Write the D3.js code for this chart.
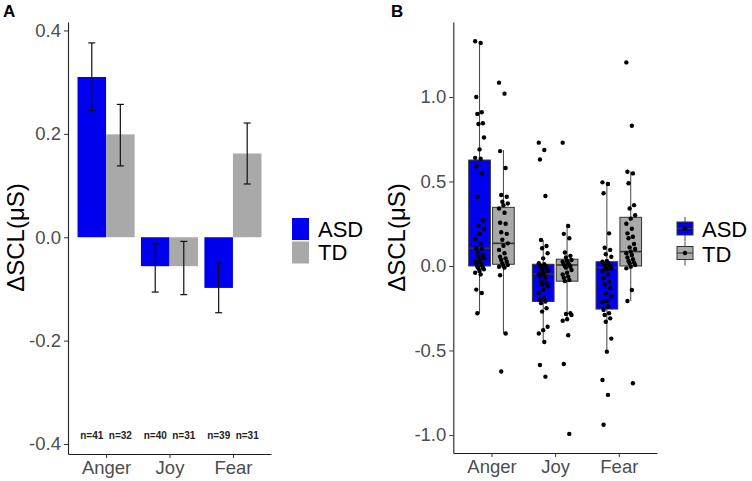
<!DOCTYPE html>
<html>
<head>
<meta charset="utf-8">
<script src="https://cdn.jsdelivr.net/npm/d3@7"></script>
<style>
  body { margin: 0; background: #fff; }
  svg { font-family: "Liberation Sans", Arial, sans-serif; }
</style>
</head>
<body>
<script>
// categories + groups
const emotions = ['Anger', 'Joy', 'Fear']
const groups = ['ASD', 'TD']

// panel A: means and error bar ends, per emotion (Anger, Joy, Fear)
const asdMean = [0.31, -0.056, -0.098]
const tdMean = [0.199, -0.056, 0.162]
const asdErrHi = [0.376, -0.013, -0.05]
const asdErrLo = [0.245, -0.106, -0.146]
const tdErrHi = [0.257, -0.008, 0.221]
const tdErrLo = [0.138, -0.111, 0.103]
const asdN = [41, 40, 39]
const tdN = [32, 31, 31]
const ticksA = [-0.4, -0.2, 0.0, 0.2, 0.4]

// panel B: box stats [lower whisker, q1, median, q3, upper whisker]
const asdBox = [
    [-0.28, 0.0, 0.105, 0.627, 1.33],
    [-0.45, -0.21, -0.047, 0.01, 0.154],
    [-0.51, -0.255, -0.01, 0.025, 0.498]
]
const tdBox = [
    [-0.40, 0.01, 0.134, 0.347, 0.686],
    [-0.32, -0.09, 0.006, 0.04, 0.25],
    [-0.207, 0.0, 0.085, 0.288, 0.558]
]
const ticksB = [-1.0, -0.5, 0.0, 0.5, 1.0]

// individual subjects
const angerASD = [1.33, 1.32, 1.00, 0.91, 0.90, 0.845, 0.84, 0.76, 0.69, 0.64, 0.635,
    0.59, 0.55, 0.41, 0.27, 0.24, 0.22, 0.19, 0.16, 0.13, 0.105,
    0.10, 0.08, 0.065, 0.055, 0.045, 0.035, 0.025, 0.02, 0.015, 0.005,
    -0.005, -0.01, -0.015, -0.02, -0.03, -0.04, -0.05, -0.14, -0.16, -0.28]
const angerTD = [1.085, 1.02, 0.68, 0.58, 0.42, 0.41, 0.38, 0.37, 0.36, 0.34, 0.315,
    0.256, 0.25, 0.2, 0.19, 0.155, 0.134, 0.12, 0.095, 0.075, 0.055, 0.045, 0.035,
    0.025, 0.015, 0.005, 0.0, -0.005, -0.01, -0.055, -0.40, -0.625]
const joyASD = [0.73, 0.686, 0.63, 0.414, 0.154, 0.118, 0.105, 0.075, 0.045,
    0.016, 0.01, 0.005, 0.0, -0.01, -0.014, -0.02, -0.03, -0.04, -0.047, -0.053,
    -0.06, -0.073, -0.09, -0.10, -0.11, -0.12, -0.14, -0.16, -0.19, -0.2, -0.21,
    -0.22, -0.25, -0.27, -0.36, -0.38, -0.40, -0.45, -0.586, -0.655]
const joyTD = [0.73, 0.237, 0.19, 0.164, 0.08, 0.06, 0.05, 0.035, 0.03, 0.025, 0.016,
    0.01, 0.006, 0.0, -0.005, -0.01, -0.024, -0.04, -0.05, -0.063, -0.07, -0.083,
    -0.09, -0.28, -0.284, -0.29, -0.315, -0.324, -0.41, -0.58, -0.994]
const fearASD = [0.495, 0.485, 0.43, 0.193, 0.108, 0.095, 0.069, 0.055, 0.03, 0.025,
    0.02, 0.015, 0.01, 0.005, 0.0, -0.01, -0.014, -0.02, -0.03, -0.05, -0.073, -0.093,
    -0.11, -0.13, -0.16, -0.18, -0.207, -0.215, -0.24, -0.26, -0.28, -0.29, -0.31,
    -0.33, -0.43, -0.507, -0.675, -0.763, -0.94]
const fearTD = [1.205, 0.83, 0.558, 0.548, 0.49, 0.36, 0.34, 0.3, 0.28, 0.25, 0.22,
    0.193, 0.173, 0.164, 0.13, 0.11, 0.1, 0.085, 0.075, 0.065, 0.05, 0.04, 0.03, 0.02,
    0.016, 0.006, -0.004, -0.014, -0.142, -0.207, -0.694]
const asdPoints = [angerASD, joyASD, fearASD]
const tdPoints = [angerTD, joyTD, fearTD]

const colors = {ASD: '#0000ee', TD: '#a9a9a9'}
const tickGrey = '#4d4d4d'

const svg = d3.select('body').append('svg')
    .attr('width', 752)
    .attr('height', 481)

// little helper to style an axis the ggplot classic way
const styleAxis = (g) => {
    g.select('.domain').attr('stroke', '#222').attr('stroke-width', 1.1)
    g.selectAll('.tick line').attr('stroke', '#333').attr('stroke-width', 1)
    g.selectAll('.tick text').attr('fill', tickGrey).style('font-size', '18.5px')
}

const yTitle = (x) => {
    svg.append('text')
        .attr('transform', `translate(${x},237.5) rotate(-90)`)
        .attr('text-anchor', 'middle')
        .attr('dominant-baseline', 'central')
        .style('font-size', '24px')
        .text('ΔSCL(μS)')
}

// ---------- panel A ----------
const xA = d3.scalePoint().domain(emotions).range([68, 271]).padding(0.6)
const yA = d3.scaleLinear().domain([-0.4193, 0.4164]).range([454, 22])
const stepA = xA.step()
const barW = stepA * 0.45

const barsA = []
emotions.forEach((e, i) => {
    barsA.push({e, g: 'ASD', v: asdMean[i], hi: asdErrHi[i], lo: asdErrLo[i], n: asdN[i], off: -barW / 2})
    barsA.push({e, g: 'TD', v: tdMean[i], hi: tdErrHi[i], lo: tdErrLo[i], n: tdN[i], off: barW / 2})
})

const panelA = svg.append('g')

panelA.selectAll('.bar')
    .data(barsA)
    .join('rect')
    .attr('class', 'bar')
    .attr('x', d => xA(d.e) + d.off - barW / 2)
    .attr('width', barW)
    .attr('y', d => yA(Math.max(0, d.v)))
    .attr('height', d => Math.abs(yA(d.v) - yA(0)))
    .attr('fill', d => colors[d.g])

const err = panelA.selectAll('.err')
    .data(barsA)
    .join('g')
    .attr('class', 'err')
    .attr('stroke', '#111')
    .attr('stroke-width', 1.2)
err.append('line')
    .attr('x1', d => xA(d.e) + d.off).attr('x2', d => xA(d.e) + d.off)
    .attr('y1', d => yA(d.hi)).attr('y2', d => yA(d.lo))
err.append('line')
    .attr('x1', d => xA(d.e) + d.off - 3.5).attr('x2', d => xA(d.e) + d.off + 3.5)
    .attr('y1', d => yA(d.hi)).attr('y2', d => yA(d.hi))
err.append('line')
    .attr('x1', d => xA(d.e) + d.off - 3.5).attr('x2', d => xA(d.e) + d.off + 3.5)
    .attr('y1', d => yA(d.lo)).attr('y2', d => yA(d.lo))

panelA.selectAll('.nlab')
    .data(barsA)
    .join('text')
    .attr('class', 'nlab')
    .attr('x', d => xA(d.e) + d.off)
    .attr('y', yA(-0.384))
    .attr('text-anchor', 'middle')
    .attr('dominant-baseline', 'central')
    .style('font-size', '10px')
    .style('font-weight', 'bold')
    .attr('fill', '#222')
    .text(d => 'n=' + d.n)

panelA.append('g')
    .attr('transform', 'translate(68,0)')
    .call(d3.axisLeft(yA).tickValues(ticksA).tickFormat(d => d.toFixed(1)).tickSize(4).tickSizeOuter(0).tickPadding(3))
    .call(styleAxis)
panelA.append('g')
    .attr('transform', 'translate(0,454)')
    .call(d3.axisBottom(xA).tickSize(4).tickSizeOuter(0).tickPadding(3))
    .call(styleAxis)

yTitle(15)

svg.append('text').attr('x', 3).attr('y', 17)
    .style('font-size', '17px').style('font-weight', 'bold').text('A')

// legend A
const legA = svg.append('g').attr('transform', 'translate(292,218)')
groups.forEach((g, i) => {
    legA.append('rect').attr('x', 0).attr('y', i * 23.5).attr('width', 17).attr('height', 22)
        .attr('fill', colors[g])
    legA.append('text').attr('x', 26).attr('y', i * 23.5 + 11)
        .attr('dominant-baseline', 'central').style('font-size', '22px').text(g)
})

// ---------- panel B ----------
const xB = d3.scalePoint().domain(emotions).range([453.3, 657]).padding(0.6)
const yB = d3.scaleLinear().domain([-1.107, 1.444]).range([453, 22])
const stepB = xB.step()
const boxW = stepB * 0.34
const dodge = stepB * 0.1875

const boxes = []
emotions.forEach((e, i) => {
    boxes.push({e, g: 'ASD', s: asdBox[i], pts: asdPoints[i], cx: xB(e) - dodge})
    boxes.push({e, g: 'TD', s: tdBox[i], pts: tdPoints[i], cx: xB(e) + dodge})
})

const panelB = svg.append('g')
const bx = panelB.selectAll('.box')
    .data(boxes)
    .join('g')
    .attr('class', 'box')

bx.append('line')
    .attr('x1', d => d.cx).attr('x2', d => d.cx)
    .attr('y1', d => yB(d.s[4])).attr('y2', d => yB(d.s[0]))
    .attr('stroke', '#444').attr('stroke-width', 1)
bx.append('rect')
    .attr('x', d => d.cx - boxW / 2)
    .attr('width', boxW)
    .attr('y', d => yB(d.s[3]))
    .attr('height', d => yB(d.s[1]) - yB(d.s[3]))
    .attr('fill', d => colors[d.g])
    .attr('stroke', '#333').attr('stroke-width', 1)
bx.append('line')
    .attr('x1', d => d.cx - boxW / 2).attr('x2', d => d.cx + boxW / 2)
    .attr('y1', d => yB(d.s[2])).attr('y2', d => yB(d.s[2]))
    .attr('stroke', '#333').attr('stroke-width', 1.6)

// deterministic little horizontal spread for the dots
const jit = (i) => ((i * 5) % 9 - 4) * 1.1

bx.selectAll('circle')
    .data(d => d.pts.map((v, i) => ({v, x: d.cx + jit(i)})))
    .join('circle')
    .attr('cx', d => d.x)
    .attr('cy', d => yB(d.v))
    .attr('r', 2.2)
    .attr('fill', '#000')

panelB.append('g')
    .attr('transform', 'translate(453.3,0)')
    .call(d3.axisLeft(yB).tickValues(ticksB).tickFormat(d => d.toFixed(1)).tickSize(4).tickSizeOuter(0).tickPadding(3))
    .call(styleAxis)
panelB.append('g')
    .attr('transform', 'translate(0,453)')
    .call(d3.axisBottom(xB).tickSize(4).tickSizeOuter(0).tickPadding(3))
    .call(styleAxis)

yTitle(396)

svg.append('text').attr('x', 391).attr('y', 17)
    .style('font-size', '17px').style('font-weight', 'bold').text('B')

// legend B (boxplot keys)
const legB = svg.append('g').attr('transform', 'translate(677,217)')
groups.forEach((g, i) => {
    const k = legB.append('g').attr('transform', `translate(0,${i * 24.5})`)
    k.append('line').attr('x1', 8).attr('x2', 8).attr('y1', 0).attr('y2', 24)
        .attr('stroke', '#444')
    k.append('rect').attr('x', 0).attr('y', 5).attr('width', 16).attr('height', 13)
        .attr('fill', colors[g]).attr('stroke', '#333')
    k.append('line').attr('x1', 0).attr('x2', 16).attr('y1', 11.5).attr('y2', 11.5)
        .attr('stroke', '#333')
    k.append('circle').attr('cx', 8).attr('cy', 11.5).attr('r', 2.2).attr('fill', '#000')
    k.append('text').attr('x', 25).attr('y', 12.5)
        .attr('dominant-baseline', 'central').style('font-size', '22px').text(g)
})
</script>
</body>
</html>
